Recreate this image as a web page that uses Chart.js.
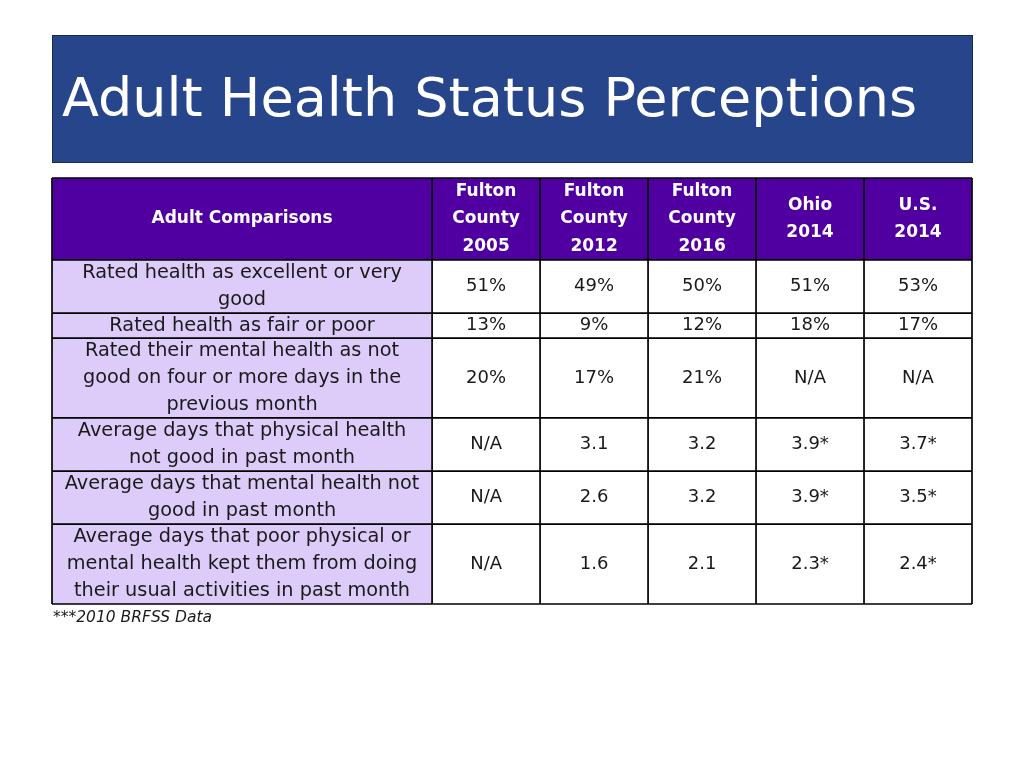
<!DOCTYPE html>
<html>
<head>
<meta charset="utf-8">
<script src="https://cdn.jsdelivr.net/npm/chart.js@4/dist/chart.umd.min.js"></script>
<style>
  html, body { margin: 0; padding: 0; background: #fff; }
</style>
</head>
<body>
<canvas id="table-chart" width="1024" height="768"></canvas>
<script>
const title = 'Adult Health Status Perceptions'
const footnote = '***2010 BRFSS Data'
const cornerLabel = 'Adult Comparisons'

const colLabels = [
  ['Fulton', 'County', '2005'],
  ['Fulton', 'County', '2012'],
  ['Fulton', 'County', '2016'],
  ['Ohio', '2014'],
  ['U.S.', '2014'],
]

const rowLabels = [
  ['Rated health as excellent or very', 'good'],
  ['Rated health as fair or poor'],
  ['Rated their mental health as not', 'good on four or more days in the', 'previous month'],
  ['Average days that physical health', 'not good in past month'],
  ['Average days that mental health not', 'good in past month'],
  ['Average days that poor physical or', 'mental health kept them from doing', 'their usual activities in past month'],
]

const fulton2005 = ['51%', '13%', '20%', 'N/A', 'N/A', 'N/A']
const fulton2012 = ['49%', '9%', '17%', '3.1', '2.6', '1.6']
const fulton2016 = ['50%', '12%', '21%', '3.2', '3.2', '2.1']
const ohio2014 = ['51%', '18%', 'N/A', '3.9*', '3.9*', '2.3*']
const us2014 = ['53%', '17%', 'N/A', '3.7*', '3.5*', '2.4*']

const columns = [fulton2005, fulton2012, fulton2016, ohio2014, us2014]

// layout units (not data): first column is wider, rows sized by line count
const colWidths = [3.52, 1, 1, 1, 1, 1]
const rowHeights = [3.08, 2, 0.94, 3, 2, 2, 3]

const sum = arr => arr.reduce((a, b) => a + b, 0)
const edges = arr => arr.reduce((acc, w) => acc.concat(acc[acc.length - 1] + w), [0])

const xEdges = edges(colWidths)
const yEdges = edges(rowHeights)

const labelFont = '19.3px "DejaVu Sans"'
const valueFont = '18px "DejaVu Sans"'
const headFont = 'bold 17px "DejaVu Sans"'

function drawLines(ctx, lines, cx, cy, lh) {
  lines.forEach((line, i) => {
    ctx.fillText(line, cx, cy + (i - (lines.length - 1) / 2) * lh)
  })
}

const tablePlugin = {
  id: 'tablePlugin',
  beforeDraw(chart) {
    const { ctx } = chart
    ctx.save()
    ctx.fillStyle = '#fff'
    ctx.fillRect(0, 0, chart.width, chart.height)
    // title banner
    ctx.fillStyle = '#27458a'
    ctx.fillRect(52, 35, 920, 127)
    ctx.strokeStyle = '#1b2a4a'
    ctx.lineWidth = 1
    ctx.strokeRect(52.5, 35.5, 920, 127)
    ctx.fillStyle = '#fff'
    ctx.font = '54px "DejaVu Sans"'
    ctx.textAlign = 'left'
    ctx.textBaseline = 'middle'
    ctx.fillText(title, 62, 102)
    ctx.restore()
  },
  afterDraw(chart) {
    const { ctx } = chart
    const xs = chart.scales.x
    const ys = chart.scales.y
    const px = v => xs.getPixelForValue(v)
    const py = v => ys.getPixelForValue(v)
    ctx.save()

    // header row
    ctx.fillStyle = '#5000a0'
    ctx.fillRect(px(0), py(0), px(xEdges[xEdges.length - 1]) - px(0), py(yEdges[1]) - py(0))
    // first column
    ctx.fillStyle = '#ddccf9'
    ctx.fillRect(px(0), py(yEdges[1]), px(xEdges[1]) - px(0), py(yEdges[yEdges.length - 1]) - py(yEdges[1]))

    // grid
    ctx.strokeStyle = '#000'
    ctx.lineWidth = 1.7
    ctx.beginPath()
    xEdges.forEach(e => {
      ctx.moveTo(px(e), py(0))
      ctx.lineTo(px(e), py(yEdges[yEdges.length - 1]))
    })
    yEdges.forEach(e => {
      ctx.moveTo(px(0), py(e))
      ctx.lineTo(px(xEdges[xEdges.length - 1]), py(e))
    })
    ctx.stroke()

    ctx.textAlign = 'center'
    ctx.textBaseline = 'middle'

    // header text
    ctx.fillStyle = '#fff'
    ctx.font = headFont
    const hy = (py(0) + py(yEdges[1])) / 2
    drawLines(ctx, [cornerLabel], (px(0) + px(xEdges[1])) / 2, hy, 27.5)
    colLabels.forEach((lines, c) => {
      drawLines(ctx, lines, (px(xEdges[c + 1]) + px(xEdges[c + 2])) / 2, hy, 27.5)
    })

    // body text
    ctx.fillStyle = '#1a1a1a'
    rowLabels.forEach((lines, r) => {
      const cy = (py(yEdges[r + 1]) + py(yEdges[r + 2])) / 2
      ctx.font = labelFont
      drawLines(ctx, lines, (px(0) + px(xEdges[1])) / 2, cy, 27)
      ctx.font = valueFont
      columns.forEach((col, c) => {
        ctx.fillText(col[r], (px(xEdges[c + 1]) + px(xEdges[c + 2])) / 2, cy)
      })
    })

    // footnote
    ctx.font = 'italic 15.5px "DejaVu Sans"'
    ctx.textAlign = 'left'
    ctx.fillText(footnote, 53, py(yEdges[yEdges.length - 1]) + 14)
    ctx.restore()
  }
}

new Chart(document.getElementById('table-chart'), {
  type: 'scatter',
  data: { datasets: [] },
  options: {
    responsive: false,
    animation: false,
    layout: { padding: { left: 52, right: 52, top: 178, bottom: 164 } },
    scales: {
      x: { type: 'linear', min: 0, max: sum(colWidths), display: false },
      y: { type: 'linear', min: 0, max: sum(rowHeights), reverse: true, display: false },
    },
    plugins: { legend: { display: false }, tooltip: { enabled: false } },
  },
  plugins: [tablePlugin],
})
</script>
</body>
</html>
